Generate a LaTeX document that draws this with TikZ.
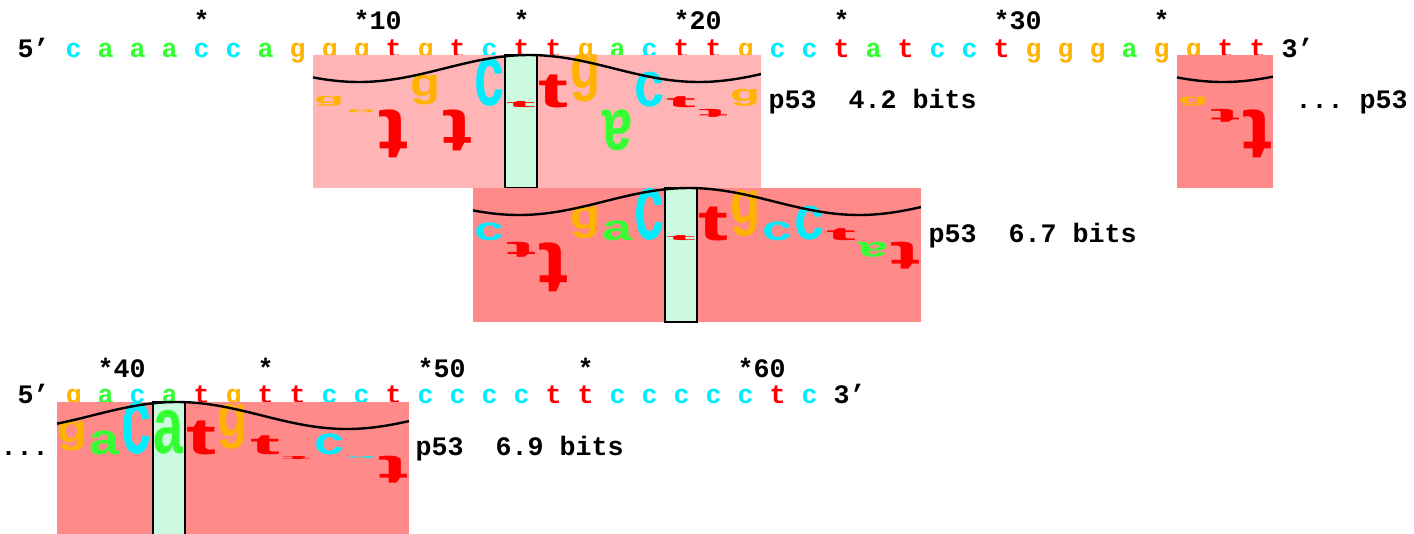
\documentclass[tikz,border=0pt]{standalone}
\usepackage{fontspec}
\usepackage{graphicx}
\setmonofont{Liberation Mono}
\newfontfamily\walkfont{Liberation Sans}

\definecolor{basea}{RGB}{51,255,51}
\definecolor{basec}{RGB}{0,236,255}
\definecolor{baseg}{RGB}{255,179,0}
\definecolor{baset}{RGB}{255,0,0}
\definecolor{walkLight}{RGB}{255,181,181}
\definecolor{walkDark}{RGB}{255,138,138}
\definecolor{zeroCol}{RGB}{204,250,222}

\newcommand{\ba}{\textcolor{basea}{a}}
\newcommand{\bc}{\textcolor{basec}{c}}
\newcommand{\bg}{\textcolor{baseg}{g}}
\newcommand{\bt}{\textcolor{baset}{t}}

\tikzset{every picture/.style={line width=0.75pt}}
\tikzset{
	seqtext/.style={font=\ttfamily\bfseries\fontsize{20}{24}\selectfont, inner sep=0pt, anchor=base west},
	walkletter/.style={font=\walkfont\bfseries, inner sep=0pt, anchor=south},
	zerocol/.style={fill=zeroCol, draw=black, line width=1.5pt},
	helix/.style={draw=black, line width=1.8pt}}

% name, centre x, top y, bottom y, colour, letter
\newcommand{\upbase}[6]{\node[walkletter, text=#5] (#1) at (#2,#4) {\resizebox*{22.5pt}{\dimexpr(#4pt-#3pt)*3/4\relax}{#6}};}
\newcommand{\dnbase}[6]{\node[walkletter, text=#5, rotate=180] (#1) at (#2,#3) {\resizebox*{22.5pt}{\dimexpr(#4pt-#3pt)*3/4\relax}{#6}};}

\begin{document}
\begin{tikzpicture}[x=0.75pt,y=0.75pt,yscale=-1,xscale=1]
		\useasboundingbox (0,0) rectangle (1414,533);

		% Text Node: numbering, first row
		\node[seqtext] (numA5) at (193,29) {*};
		\node[seqtext] (numA10) at (353,29) {*10};
		\node[seqtext] (numA15) at (513,29) {*};
		\node[seqtext] (numA20) at (673,29) {*20};
		\node[seqtext] (numA25) at (833,29) {*};
		\node[seqtext] (numA30) at (993,29) {*30};
		\node[seqtext] (numA35) at (1153,29) {*};
		% Text Node: sequence, first row
		\node[seqtext] (seqA) at (17,57) {5’ \bc{} \ba{} \ba{} \ba{} \bc{} \bc{} \ba{} \bg{} \bg{} \bg{} \bt{} \bg{} \bt{} \bc{} \bt{} \bt{} \bg{} \ba{} \bc{} \bt{} \bt{} \bg{} \bc{} \bc{} \bt{} \ba{} \bt{} \bc{} \bc{} \bt{} \bg{} \bg{} \bg{} \ba{} \bg{} \bg{} \bt{} \bt{} 3’};

		% Text Node: numbering, second row
		\node[seqtext] (numB40) at (97,377) {*40};
		\node[seqtext] (numB45) at (257,377) {*};
		\node[seqtext] (numB50) at (417,377) {*50};
		\node[seqtext] (numB55) at (577,377) {*};
		\node[seqtext] (numB60) at (737,377) {*60};
		% Text Node: sequence, second row
		\node[seqtext] (seqB) at (17,403) {5’ \bg{} \ba{} \bc{} \ba{} \bt{} \bg{} \bt{} \bt{} \bc{} \bc{} \bt{} \bc{} \bc{} \bc{} \bc{} \bt{} \bt{} \bc{} \bc{} \bc{} \bc{} \bc{} \bt{} \bc{} 3’};

		%Shape: Rectangle, walker 1
		\fill[walkLight] (313,55) rectangle (761,188);
		\draw[zerocol] (505,55) rectangle (537,188);
		\upbase{wa9}{329}{97}{107}{baseg}{g}
		\dnbase{wa10}{361}{109}{112}{baseg}{g}
		\dnbase{wa11}{393}{109}{157}{baset}{t}
		\upbase{wa12}{425}{75}{105}{baseg}{g}
		\dnbase{wa13}{457}{109}{150}{baset}{t}
		\upbase{wa14}{489}{59}{107}{basec}{c}
		\upbase{wa15}{521}{102}{108}{baset}{t}
		\upbase{wa16}{553}{75}{108}{baset}{t}
		\upbase{wa17}{585}{55}{103}{baseg}{g}
		\dnbase{wa18}{617}{109}{150}{basea}{a}
		\upbase{wa19}{649}{73}{108}{basec}{c}
		\upbase{wa20}{681}{97}{108}{baset}{t}
		\dnbase{wa21}{713}{109}{117}{baset}{t}
		\upbase{wa22}{745}{90}{107}{baseg}{g}
		\draw[helix] plot[domain=313:761, samples=80] (\x,{55+13.5*(1-cos(1.0588*(\x-529)))});
		\node[seqtext] (labA) at (768,108) {p53~~4.2 bits};

		%Shape: Rectangle, walker 2
		\fill[walkDark] (473,188) rectangle (921,322);
		\draw[zerocol] (665,188) rectangle (697,322);
		\upbase{wb14}{489}{223}{241}{basec}{c}
		\dnbase{wb15}{521}{242}{257}{baset}{t}
		\dnbase{wb16}{553}{242}{291}{baset}{t}
		\upbase{wb17}{585}{207}{239}{baseg}{g}
		\upbase{wb18}{617}{221}{241}{basea}{a}
		\upbase{wb19}{649}{189}{241}{basec}{c}
		\upbase{wb20}{681}{236}{241}{baset}{t}
		\upbase{wb21}{713}{207}{241}{baset}{t}
		\upbase{wb22}{745}{191}{237}{baseg}{g}
		\upbase{wb23}{777}{222}{241}{basec}{c}
		\upbase{wb24}{809}{207}{241}{basec}{c}
		\upbase{wb25}{841}{229}{241}{baset}{t}
		\dnbase{wb26}{873}{242}{257}{basea}{a}
		\dnbase{wb27}{905}{242}{269}{baset}{t}
		\draw[helix] plot[domain=473:921, samples=80] (\x,{188+13.5*(1-cos(1.0588*(\x-689)))});
		\node[seqtext] (labB) at (928,242) {p53~~6.7 bits};

		%Shape: Rectangle, walker 3 (runs on to next row)
		\fill[walkDark] (1177,55) rectangle (1273,188);
		\upbase{wc36}{1193}{98}{107}{baseg}{g}
		\dnbase{wc37}{1225}{109}{122}{baset}{t}
		\dnbase{wc38}{1257}{109}{157}{baset}{t}
		\draw[helix] plot[domain=1177:1273, samples=30] (\x,{55+13.5*(1-cos(1.0588*(\x-1393)))});
		\node[seqtext] (labC) at (1295,108) {... p53};

		%Shape: Rectangle, walker 3 continued
		\fill[walkDark] (57,402) rectangle (409,536);
		\draw[zerocol] (153,402) rectangle (185,536);
		\upbase{wd39}{73}{421}{451}{baseg}{g}
		\upbase{wd40}{105}{431}{455}{basea}{a}
		\upbase{wd41}{137}{403}{455}{basec}{c}
		\upbase{wd42}{169}{411}{455}{basea}{a}
		\upbase{wd43}{201}{421}{455}{baset}{t}
		\upbase{wd44}{233}{405}{450}{baseg}{g}
		\upbase{wd45}{265}{436}{455}{baset}{t}
		\dnbase{wd46}{297}{456}{459}{baset}{t}
		\upbase{wd47}{329}{434}{455}{basec}{c}
		\dnbase{wd48}{361}{456}{458}{basec}{c}
		\dnbase{wd49}{393}{456}{483}{baset}{t}
		\draw[helix] plot[domain=57:409, samples=80] (\x,{402+13.5*(1-cos(1.0588*(\x-177)))});
		\node[seqtext] (dotsD) at (0,455) {...};
		\node[seqtext] (labD) at (415,455) {p53~~6.9 bits};

\end{tikzpicture}
\end{document}
